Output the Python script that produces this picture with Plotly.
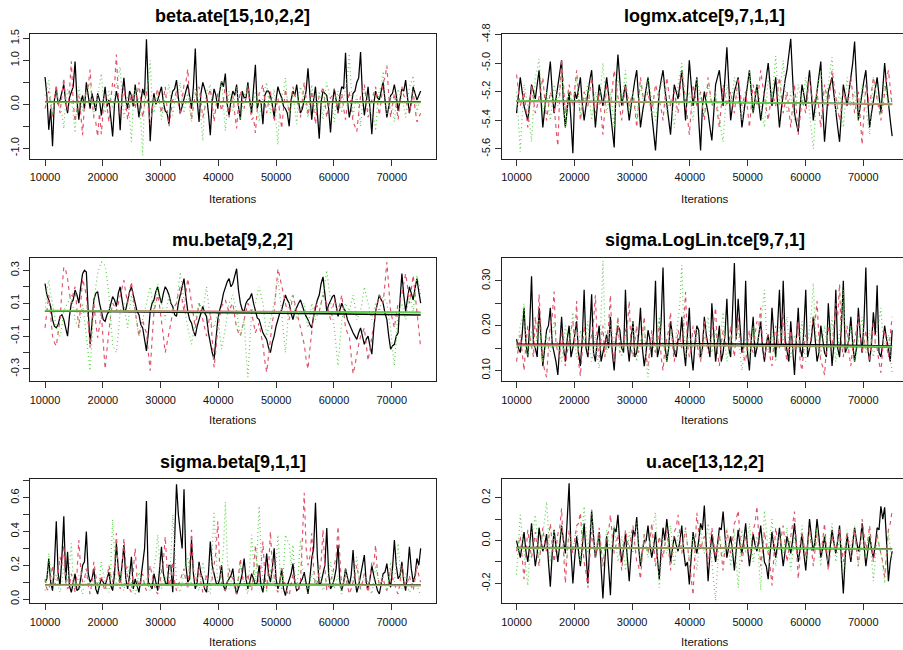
import numpy as np
import plotly.graph_objects as go

# MCMC iteration grid (thinned draws kept after burn-in)
START, END, STEP = 10000, 75000, 650

titles = ["beta.ate[15,10,2,2]", "logmx.atce[9,7,1,1]", "mu.beta[9,2,2]",
          "sigma.LogLin.tce[9,7,1]", "sigma.beta[9,1,1]", "u.ace[13,12,2]"]

x_ticks = [10000, 20000, 30000, 40000, 50000, 60000, 70000]

# Each chain is stored as draws on the main grid (START + k*STEP) and
# the draws half a step later (START + STEP/2 + k*STEP).

# ---- beta.ate[15,10,2,2] ----
beta_ate_c1 = [0.62, -0.58, -0.95, 0.35, 0.1, 0.45, -0.2, 0.3, 0.97, -0.35,
               0.2, 0.5, -0.1, 0.05, 0.25, -0.25, 0.4, 0.1, -0.73, 0.3,
               -0.59, 0.6, -0.1, 0.2, 0.45, -0.3, 0.35, 1.48, -0.84, 0.25,
               0.1, 0.4, -0.15, -0.45, 0.3, 0.55, -0.2, 0.15, 0.45, -0.1,
               1.27, -0.4, 0.5, 0.2, -0.7, 0.35, -0.1, 0.52, 0.7, -0.25,
               0.3, 0.45, -0.35, 0.15, 0.5, -0.2, 0.9, 0.1, -0.45, 0.3,
               0.2, -0.3, 0.4, 0.15, -0.1, -0.5, 0.3, 0.45, -0.2, 0.1,
               0.82, -0.35, 0.4, -0.78, 0.3, 0.2, -0.64, 0.35, -0.2, 0.4,
               1.17, -0.3, 0.25, 0.5, 1.19, -0.25, 0.4, -0.68, 0.3, 0.1,
               0.5, -0.3, 0.2, 0.45, -0.15, 0.35, 0.55, -0.2, 0.4, 0.1, 0.3]
beta_ate_c1_half = [0.2, -0.1, 0.1, 0.0, 0.3, 0.05, 0.15, 0.4, 0.1, 0.05,
                    -0.1, 0.2, 0.25, -0.15, 0.1, 0.15, -0.05, -0.3, 0.0, 0.1,
                    0.2, 0.1, 0.3, -0.05, 0.1, 0.05, 0.2, 0.3, -0.1, 0.0,
                    0.25, 0.05, -0.2, 0.1, 0.35, 0.15, -0.05, 0.3, 0.2, 0.4,
                    0.1, 0.25, 0.35, -0.2, 0.05, 0.2, 0.3, 0.4, 0.0, 0.1,
                    0.2, -0.05, 0.3, 0.15, 0.1, 0.35, -0.1, 0.05, 0.2, 0.3,
                    0.0, 0.1, 0.25, -0.05, -0.2, 0.1, 0.2, 0.05, -0.1, 0.3,
                    0.15, 0.1, -0.2, 0.05, 0.25, -0.1, 0.0, 0.1, 0.2, 0.35,
                    0.1, -0.05, 0.3, 0.6, 0.2, 0.05, -0.1, 0.0, 0.15, 0.3,
                    0.1, -0.05, 0.25, 0.2, 0.1, 0.3, 0.15, 0.05, 0.25, 0.2]
beta_ate_c2 = [-0.1, 0.3, -0.3, 0.45, -0.2, 0.6, -0.15, 0.98, -0.4, 0.2,
               -0.7, 0.35, 0.79, -0.3, -0.73, -0.68, 0.2, -0.4, 0.5, 1.13,
               -0.25, 0.4, -0.35, 0.25, -0.1, 0.5, -0.3, 0.3, -0.45, 0.15,
               0.35, -0.2, 0.4, -0.5, 0.1, 0.3, -0.25, 0.45, 0.8, -0.35,
               0.2, 0.4, -0.3, 0.1, 0.35, -0.4, 0.25, -0.15, 0.45, -0.3,
               0.2, -0.55, 0.3, -0.1, 0.4, -0.35, -0.65, 0.25, 0.45, -0.2,
               0.3, -0.4, 0.15, -0.55, 0.35, -0.2, 0.4, 0.1, -0.3, 0.5,
               -0.25, 0.3, -0.45, 0.2, 0.4, -0.3, 0.15, 0.35, -0.2, 0.25,
               -0.35, 0.3, -0.4, -0.62, 0.2, 0.45, -0.3, 0.1, 0.4, -0.25,
               0.5, 0.88, -0.3, 0.25, -0.35, 0.4, 0.1, -0.2, 0.3, -0.4, -0.2]
beta_ate_c2_half = [0.1, 0.0, 0.15, 0.05, 0.2, 0.1, 0.3, 0.05, -0.1, -0.2,
                    0.0, 0.4, 0.1, -0.4, -0.2, -0.1, -0.05, 0.1, 0.4, 0.2,
                    0.05, 0.0, -0.05, 0.1, 0.2, 0.05, 0.0, -0.1, -0.15, 0.2,
                    0.05, 0.1, -0.1, -0.2, 0.15, 0.0, 0.1, 0.5, 0.1, -0.05,
                    0.3, 0.05, -0.1, 0.2, 0.0, -0.05, 0.05, 0.1, 0.0, -0.05,
                    -0.2, 0.0, 0.1, 0.15, 0.0, -0.3, -0.1, 0.3, 0.1, 0.05,
                    -0.05, -0.1, -0.2, -0.1, 0.05, 0.1, 0.2, -0.05, 0.1, 0.15,
                    0.0, -0.1, -0.05, 0.25, 0.05, -0.05, 0.2, 0.05, 0.0, -0.1,
                    0.0, -0.05, -0.5, -0.2, 0.3, 0.1, -0.05, 0.2, 0.05, 0.1,
                    0.6, 0.2, 0.0, -0.05, 0.1, 0.2, -0.05, 0.05, -0.1, -0.3]
beta_ate_c3 = [0.2, 0.55, -0.2, 0.3, -0.1, -0.55, 0.35, 0.1, -0.65, 0.4,
               -0.15, 0.25, 0.5, -0.3, 0.2, 0.7, -0.2, 0.3, -0.1, 0.45,
               0.85, -0.3, 0.2, -0.85, 0.35, 0.1, -1.16, 0.4, 1.0, -0.2,
               0.3, -0.35, 0.15, 0.45, -0.25, 0.3, 0.5, -0.2, 0.25, -0.4,
               0.35, 0.1, -0.83, 0.3, 0.45, -0.3, 0.2, 0.55, -0.6, 0.3,
               -0.15, 0.4, -0.35, 0.2, 0.45, -0.25, 0.3, -0.4, 0.15, 0.5,
               -0.2, 0.35, -0.92, 0.2, 0.6, -0.3, 0.25, -0.45, 0.4, 0.1,
               -0.3, 0.45, -0.2, 0.3, -0.35, 0.5, 0.1, -0.4, 0.3, -0.2,
               0.4, 1.15, -0.3, 0.2, -0.5, 0.35, 0.1, -0.3, -0.6, 0.3,
               0.75, -0.25, 0.2, -0.4, 0.35, 0.1, -0.3, 0.4, 0.65, -0.2, 0.15]
beta_ate_c3_half = [0.35, 0.1, 0.05, 0.1, -0.2, 0.05, 0.2, -0.2, 0.1, 0.05,
                    0.1, 0.35, 0.1, -0.05, 0.4, 0.2, 0.0, 0.1, 0.15, 0.6,
                    0.2, -0.05, -0.3, 0.1, 0.2, -0.4, 0.2, 0.5, 0.05, 0.1,
                    0.0, -0.05, 0.25, 0.1, 0.05, 0.3, 0.1, 0.05, -0.1, 0.1,
                    0.2, -0.3, 0.0, 0.35, 0.05, -0.05, 0.35, 0.0, -0.1, 0.1,
                    0.15, 0.0, -0.1, 0.3, 0.1, 0.05, -0.1, 0.0, 0.3, 0.1,
                    0.05, -0.4, 0.0, 0.3, 0.1, 0.0, -0.1, 0.2, 0.25, -0.05,
                    0.15, 0.1, 0.05, 0.0, 0.2, 0.3, -0.1, 0.05, 0.0, 0.15,
                    0.6, 0.3, 0.0, -0.1, 0.0, 0.2, -0.05, -0.3, 0.0, 0.4,
                    0.2, 0.0, -0.05, 0.1, 0.2, -0.05, 0.1, 0.5, 0.2, 0.0]
beta_ate_smooth = [[0.06, 0.06, 0.06, 0.06, 0.06],
                   [0.05, 0.05, 0.04, 0.04, 0.04],
                   [0.05, 0.05, 0.05, 0.05, 0.05]]

# ---- logmx.atce[9,7,1,1] ----
logmx_c1 = [-5.35, -5.1, -5.3, -5.4, -5.15, -5.25, -5.05, -5.45, -5.2, -4.99,
            -5.35, -5.15, -4.98, -5.45, -5.2, -5.63, -5.25, -5.1, -5.4, -5.2,
            -5.05, -5.45, -5.15, -5.3, -5.1, -5.35, -5.59, -4.94, -5.3, -5.15,
            -5.4, -5.2, -5.05, -5.45, -5.25, -5.1, -5.35, -5.61, -5.2, -5.05,
            -5.3, -5.5, -5.15, -5.25, -5.05, -5.4, -4.98, -5.3, -5.1, -5.61,
            -5.2, -5.35, -5.54, -5.15, -5.05, -5.3, -4.89, -5.4, -5.2, -5.1,
            -5.45, -5.25, -5.05, -5.35, -5.15, -5.4, -5.2, -5.0, -5.3, -5.1,
            -5.45, -5.2, -5.05, -4.83, -5.35, -5.48, -5.15, -5.3, -5.05, -5.4,
            -5.2, -4.99, -5.55, -5.2, -5.1, -5.35, -5.55, -5.15, -5.3, -5.1,
            -4.85, -5.4, -5.2, -5.05, -5.45, -5.25, -5.1, -5.35, -5.0, -5.3, -5.51]
logmx_c1_half = [-5.22, -5.2, -5.35, -5.28, -5.2, -5.15, -5.25, -5.32, -5.1, -5.2,
                 -5.25, -5.08, -5.3, -5.32, -5.4, -5.2, -5.18, -5.28, -5.3, -5.12,
                 -5.25, -5.3, -5.22, -5.2, -5.22, -5.45, -5.15, -5.12, -5.22, -5.28,
                 -5.3, -5.12, -5.25, -5.35, -5.18, -5.22, -5.45, -5.4, -5.12, -5.18,
                 -5.4, -5.32, -5.2, -5.15, -5.22, -5.2, -5.15, -5.2, -5.4, -5.3,
                 -5.28, -5.45, -5.35, -5.1, -5.18, -5.1, -5.15, -5.3, -5.15, -5.28,
                 -5.35, -5.15, -5.2, -5.25, -5.28, -5.3, -5.1, -5.15, -5.2, -5.28,
                 -5.32, -5.12, -4.95, -5.1, -5.42, -5.3, -5.22, -5.18, -5.22, -5.3,
                 -5.1, -5.3, -5.38, -5.15, -5.22, -5.45, -5.35, -5.22, -5.2, -5.0,
                 -5.12, -5.3, -5.12, -5.25, -5.35, -5.18, -5.22, -5.18, -5.15, -5.4]
logmx_c2 = [-5.08, -5.3, -5.2, -5.45, -5.15, -5.35, -5.25, -5.1, -5.4, -5.2,
            -5.3, -5.58, -4.97, -5.35, -5.15, -5.3, -5.05, -5.4, -5.2, -5.3,
            -5.1, -5.35, -5.2, -5.5, -5.15, -5.3, -5.05, -5.25, -5.4, -5.15,
            -5.3, -5.2, -5.45, -5.1, -5.3, -5.2, -5.35, -5.15, -5.25, -5.4,
            -5.1, -5.3, -5.2, -5.35, -5.05, -5.25, -5.5, -5.15, -5.3, -5.2,
            -5.4, -5.1, -5.3, -5.25, -5.45, -5.15, -5.3, -5.2, -5.35, -5.1,
            -5.3, -5.2, -5.45, -5.15, -5.3, -5.05, -5.25, -5.4, -5.2, -5.3,
            -5.1, -5.35, -5.2, -5.45, -5.15, -5.5, -5.25, -5.35, -5.1, -5.3,
            -5.2, -5.45, -5.15, -5.3, -5.05, -5.25, -5.4, -5.2, -5.3, -5.1,
            -5.35, -5.2, -5.57, -5.15, -5.3, -5.1, -5.25, -5.4, -5.2, -5.05, -5.3]
logmx_c2_half = [-5.2, -5.25, -5.32, -5.3, -5.25, -5.3, -5.18, -5.25, -5.3, -5.25,
                 -5.45, -5.22, -5.15, -5.25, -5.22, -5.18, -5.22, -5.3, -5.25, -5.2,
                 -5.22, -5.28, -5.35, -5.32, -5.22, -5.18, -5.15, -5.32, -5.28, -5.22,
                 -5.25, -5.32, -5.28, -5.2, -5.25, -5.28, -5.25, -5.2, -5.32, -5.25,
                 -5.2, -5.25, -5.28, -5.2, -5.15, -5.38, -5.32, -5.22, -5.25, -5.3,
                 -5.25, -5.2, -5.28, -5.35, -5.3, -5.22, -5.25, -5.28, -5.22, -5.2,
                 -5.25, -5.32, -5.3, -5.22, -5.18, -5.15, -5.32, -5.3, -5.25, -5.2,
                 -5.22, -5.28, -5.32, -5.3, -5.32, -5.38, -5.3, -5.22, -5.2, -5.25,
                 -5.32, -5.3, -5.22, -5.18, -5.15, -5.32, -5.3, -5.25, -5.2, -5.22,
                 -5.28, -5.38, -5.35, -5.22, -5.2, -5.18, -5.32, -5.3, -5.12, -5.18]
logmx_c3 = [-5.2, -5.62, -5.15, -5.3, -5.55, -5.1, -4.97, -5.35, -5.2, -5.4,
            -5.15, -5.3, -5.05, -5.45, -5.2, -5.3, -5.1, -5.35, -5.25, -5.15,
            -5.4, -5.2, -5.3, -5.0, -5.35, -5.2, -5.45, -5.1, -5.3, -5.05,
            -5.35, -5.2, -5.4, -5.15, -5.3, -5.1, -5.25, -5.4, -5.2, -5.1,
            -5.35, -5.25, -5.45, -5.15, -5.0, -5.3, -5.2, -5.4, -5.1, -5.25,
            -5.35, -5.15, -5.3, -5.2, -5.4, -5.55, -5.15, -5.3, -5.1, -5.25,
            -5.4, -5.2, -5.05, -5.35, -5.15, -5.3, -5.45, -5.1, -5.25, -4.95,
            -5.3, -4.98, -5.35, -5.2, -5.4, -5.15, -5.3, -5.1, -5.35, -5.6,
            -5.2, -5.05, -5.3, -5.15, -4.96, -5.35, -5.2, -5.45, -5.1, -5.3,
            -5.2, -5.4, -5.15, -5.3, -5.5, -5.1, -5.25, -5.35, -5.15, -5.3, -5.2]
logmx_c3_half = [-5.4, -5.38, -5.22, -5.42, -5.32, -5.05, -5.15, -5.28, -5.3, -5.28,
                 -5.22, -5.18, -5.25, -5.32, -5.25, -5.2, -5.22, -5.3, -5.2, -5.28,
                 -5.3, -5.25, -5.15, -5.18, -5.28, -5.32, -5.28, -5.2, -5.18, -5.2,
                 -5.28, -5.3, -5.28, -5.22, -5.2, -5.18, -5.32, -5.3, -5.15, -5.22,
                 -5.3, -5.35, -5.3, -5.08, -5.15, -5.25, -5.3, -5.25, -5.18, -5.3,
                 -5.25, -5.22, -5.25, -5.3, -5.48, -5.35, -5.22, -5.2, -5.18, -5.32,
                 -5.3, -5.12, -5.2, -5.25, -5.22, -5.38, -5.28, -5.18, -5.1, -5.15,
                 -5.12, -5.18, -5.28, -5.3, -5.28, -5.22, -5.2, -5.22, -5.48, -5.4,
                 -5.12, -5.18, -5.22, -5.05, -5.15, -5.28, -5.32, -5.28, -5.2, -5.25,
                 -5.3, -5.28, -5.22, -5.4, -5.3, -5.18, -5.3, -5.25, -5.22, -5.25]
logmx_smooth = [[-5.265, -5.268, -5.272, -5.278, -5.285],
                [-5.268, -5.27, -5.274, -5.28, -5.29],
                [-5.263, -5.267, -5.272, -5.278, -5.284]]

# ---- mu.beta[9,2,2] ----
mu_beta_c1 = [0.22, 0.12, 0.0, -0.05, 0.02, 0.0, -0.1, 0.1, 0.18, 0.1,
              0.28, 0.29, -0.15, 0.12, 0.17, 0.05, -0.01, 0.05, 0.14, 0.08,
              0.2, 0.05, 0.12, 0.2, 0.1, 0.03, -0.05, -0.19, 0.05, 0.12,
              0.2, 0.1, 0.2, 0.15, 0.08, 0.02, 0.15, 0.25, 0.05, -0.02,
              -0.1, 0.0, 0.08, 0.02, -0.15, -0.24, 0.0, 0.1, 0.2, 0.25,
              0.22, 0.31, 0.1, 0.05, 0.12, 0.16, 0.05, 0.0, -0.08, -0.12,
              -0.2, -0.1, 0.0, 0.06, 0.15, 0.1, 0.0, 0.08, 0.12, 0.05,
              0.0, -0.05, 0.08, 0.15, 0.26, 0.05, 0.12, 0.15, 0.02, 0.1,
              0.05, -0.03, -0.08, -0.12, -0.05, -0.15, -0.1, -0.21, 0.05, 0.15,
              0.1, 0.0, -0.18, -0.15, -0.08, 0.28, 0.05, 0.2, 0.12, 0.25, 0.1]
mu_beta_c1_half = [0.15, 0.08, -0.04, -0.03, 0.03, -0.06, 0.02, 0.12, 0.15, 0.2,
                   0.3, 0.05, -0.02, 0.16, 0.1, 0.0, 0.03, 0.1, 0.12, 0.16,
                   0.12, 0.06, 0.17, 0.14, 0.05, -0.03, -0.12, -0.08, 0.1, 0.17,
                   0.14, 0.16, 0.18, 0.1, 0.03, 0.1, 0.2, 0.14, 0.0, -0.07,
                   -0.04, 0.05, 0.04, -0.08, -0.2, -0.1, 0.06, 0.16, 0.23, 0.2,
                   0.27, 0.18, 0.06, 0.1, 0.13, 0.1, 0.01, -0.05, -0.1, -0.17,
                   -0.14, -0.04, 0.04, 0.1, 0.12, 0.04, 0.05, 0.1, 0.08, 0.02,
                   -0.03, 0.02, 0.12, 0.22, 0.14, 0.09, 0.14, 0.08, 0.06, 0.07,
                   0.0, -0.06, -0.1, -0.08, -0.1, -0.12, -0.16, -0.06, 0.1, 0.12,
                   0.04, -0.1, -0.16, -0.1, 0.12, 0.15, 0.13, 0.16, 0.19, 0.17]
mu_beta_c2 = [-0.05, 0.15, -0.1, -0.16, 0.0, 0.32, 0.25, 0.1, 0.2, -0.05,
              0.25, 0.15, -0.17, 0.1, -0.11, 0.05, -0.3, -0.05, 0.1, 0.05,
              0.15, 0.24, 0.1, 0.23, 0.05, -0.1, 0.0, -0.08, -0.31, 0.05,
              0.15, 0.0, -0.2, -0.08, 0.05, 0.1, 0.2, 0.05, 0.25, 0.1,
              -0.05, 0.1, 0.0, -0.1, 0.05, -0.29, -0.05, 0.08, 0.12, 0.05,
              0.1, -0.05, -0.1, 0.0, 0.1, 0.05, -0.08, -0.02, -0.15, -0.32, -0.1,
              0.05, 0.31, 0.2, 0.1, 0.0, 0.15, 0.05, -0.05, -0.15, -0.3,
              -0.05, 0.1, 0.05, 0.15, 0.1, 0.0, 0.12, 0.05, 0.15, -0.05,
              -0.1, -0.33, -0.2, -0.1, -0.05, -0.25, -0.1, 0.05, 0.15, 0.1,
              0.35, 0.05, -0.05, 0.1, 0.15, 0.28, 0.1, 0.27, 0.05, -0.17]
mu_beta_c2_half = [0.06, 0.02, -0.14, -0.08, 0.18, 0.3, 0.16, 0.16, 0.06, 0.1,
                   0.2, -0.02, -0.05, -0.02, -0.04, -0.14, -0.18, 0.03, 0.08, 0.1,
                   0.2, 0.16, 0.17, 0.13, -0.03, -0.04, -0.05, -0.2, -0.12, 0.1,
                   0.08, -0.1, -0.15, -0.02, 0.08, 0.16, 0.12, 0.16, 0.18, 0.02,
                   0.03, 0.05, -0.06, -0.03, -0.12, -0.18, 0.02, 0.1, 0.08, 0.08,
                   0.02, -0.08, -0.05, 0.06, 0.08, -0.02, -0.05, -0.09, -0.25, -0.22,
                   -0.02, 0.18, 0.26, 0.14, 0.05, 0.08, 0.1, 0.0, -0.1, -0.24,
                   -0.18, 0.03, 0.08, 0.1, 0.12, 0.05, 0.06, 0.08, 0.1, 0.05,
                   -0.08, -0.22, -0.28, -0.15, -0.08, -0.15, -0.18, -0.02, 0.1, 0.12,
                   0.22, 0.2, 0.0, 0.03, 0.12, 0.22, 0.2, 0.18, 0.16, -0.06]
mu_beta_c3 = [0.05, 0.24, 0.1, -0.05, -0.1, 0.05, 0.1, 0.15, 0.0, -0.05,
              0.1, -0.1, -0.31, 0.1, 0.28, 0.35, 0.33, 0.15, -0.15, -0.2,
              0.05, 0.1, -0.05, 0.15, 0.05, -0.1, 0.0, 0.1, 0.2, 0.05,
              0.22, 0.1, 0.0, 0.15, 0.05, 0.1, 0.29, 0.1, -0.05, -0.15,
              0.0, 0.1, 0.05, 0.2, 0.0, -0.05, 0.05, -0.18, -0.05, 0.1,
              0.15, 0.05, -0.1, 0.0, -0.35, 0.05, 0.1, 0.2, 0.1, -0.1,
              0.0, 0.1, 0.25, 0.05, -0.2, 0.1, 0.15, 0.0, 0.05, 0.1,
              -0.05, 0.1, 0.0, 0.05, 0.15, 0.3, 0.1, -0.05, -0.28, 0.0,
              0.1, 0.05, 0.15, 0.0, 0.05, 0.2, 0.1, 0.0, 0.1, 0.05,
              0.15, 0.1, -0.05, -0.28, 0.05, 0.1, 0.0, 0.15, 0.05, 0.27, 0.15]
mu_beta_c3_half = [0.18, 0.15, 0.02, -0.08, -0.04, 0.08, 0.12, 0.08, -0.03, 0.02,
                   0.0, -0.22, -0.12, 0.2, 0.32, 0.34, 0.25, 0.0, -0.18, -0.08,
                   0.08, 0.02, 0.06, 0.1, -0.03, -0.05, 0.05, 0.16, 0.12, 0.14,
                   0.16, 0.05, 0.08, 0.1, 0.08, 0.2, 0.2, 0.02, -0.1, -0.08,
                   0.05, 0.08, 0.12, 0.1, -0.03, 0.0, -0.08, -0.12, 0.02, 0.12,
                   0.1, -0.03, -0.05, -0.2, -0.15, 0.08, 0.15, 0.15, 0.0, -0.05,
                   0.05, 0.18, 0.15, -0.08, -0.05, 0.13, 0.08, 0.03, 0.08, 0.02,
                   0.03, 0.05, 0.03, 0.1, 0.22, 0.2, 0.02, -0.18, -0.14, 0.05,
                   0.08, 0.1, 0.08, 0.03, 0.12, 0.15, 0.05, 0.05, 0.08, 0.1,
                   0.12, 0.02, -0.18, -0.12, 0.08, 0.05, 0.08, 0.1, 0.16, 0.22]
mu_beta_smooth = [[0.052, 0.048, 0.043, 0.036, 0.028],
                  [0.056, 0.054, 0.051, 0.048, 0.046],
                  [0.054, 0.05, 0.046, 0.043, 0.042]]

# ---- sigma.LogLin.tce[9,7,1] ----
sigma_ll_c1 = [0.17, 0.14, 0.24, 0.13, 0.31, 0.15, 0.24, 0.11, 0.19, 0.24,
               0.14, 0.09, 0.22, 0.12, 0.2, 0.15, 0.21, 0.11, 0.28, 0.13,
               0.27, 0.12, 0.2, 0.14, 0.18, 0.22, 0.1, 0.2, 0.15, 0.28,
               0.12, 0.21, 0.14, 0.24, 0.11, 0.19, 0.13, 0.3, 0.15, 0.33,
               0.12, 0.21, 0.14, 0.17, 0.22, 0.11, 0.24, 0.1, 0.2, 0.13,
               0.22, 0.15, 0.25, 0.12, 0.2, 0.14, 0.26, 0.13, 0.34, 0.26,
               0.14, 0.3, 0.1, 0.22, 0.15, 0.21, 0.12, 0.18, 0.24, 0.13,
               0.28, 0.3, 0.14, 0.21, 0.09, 0.24, 0.13, 0.28, 0.15, 0.22,
               0.12, 0.2, 0.14, 0.25, 0.11, 0.28, 0.13, 0.3, 0.15, 0.22,
               0.12, 0.24, 0.14, 0.33, 0.12, 0.23, 0.29, 0.13, 0.2, 0.15, 0.19]
sigma_ll_c1_half = [0.15, 0.18, 0.16, 0.2, 0.16, 0.13, 0.17, 0.15, 0.2, 0.16,
                    0.12, 0.16, 0.15, 0.17, 0.13, 0.18, 0.14, 0.17, 0.15, 0.19,
                    0.14, 0.17, 0.12, 0.16, 0.15, 0.14, 0.17, 0.19, 0.14, 0.16,
                    0.17, 0.13, 0.18, 0.15, 0.14, 0.17, 0.19, 0.13, 0.21, 0.16,
                    0.15, 0.18, 0.13, 0.17, 0.15, 0.18, 0.14, 0.16, 0.19, 0.15,
                    0.18, 0.13, 0.17, 0.16, 0.12, 0.18, 0.15, 0.23, 0.17, 0.2,
                    0.16, 0.14, 0.17, 0.13, 0.18, 0.15, 0.16, 0.14, 0.18, 0.2,
                    0.16, 0.17, 0.12, 0.15, 0.17, 0.15, 0.19, 0.13, 0.17, 0.16,
                    0.14, 0.17, 0.13, 0.18, 0.16, 0.15, 0.2, 0.14, 0.17, 0.16,
                    0.15, 0.18, 0.21, 0.15, 0.16, 0.18, 0.14, 0.16, 0.17, 0.12]
sigma_ll_c2 = [0.12, 0.18, 0.1, 0.2, 0.15, 0.22, 0.27, 0.12, 0.085, 0.2,
               0.276, 0.14, 0.19, 0.11, 0.17, 0.21, 0.255, 0.088, 0.2, 0.14,
               0.18, 0.268, 0.13, 0.2, 0.16, 0.268, 0.12, 0.22, 0.15, 0.19,
               0.255, 0.13, 0.2, 0.16, 0.22, 0.11, 0.19, 0.14, 0.21, 0.1,
               0.17, 0.23, 0.12, 0.19, 0.15, 0.275, 0.13, 0.2, 0.16, 0.12,
               0.21, 0.14, 0.18, 0.24, 0.11, 0.19, 0.15, 0.2, 0.13, 0.22,
               0.16, 0.12, 0.19, 0.14, 0.21, 0.24, 0.13, 0.18, 0.11, 0.2,
               0.15, 0.23, 0.12, 0.19, 0.14, 0.21, 0.1, 0.18, 0.15, 0.22,
               0.255, 0.12, 0.09, 0.2, 0.15, 0.25, 0.293, 0.13, 0.2, 0.11,
               0.17, 0.22, 0.14, 0.19, 0.12, 0.21, 0.15, 0.095, 0.19, 0.13, 0.22]
sigma_ll_c2_half = [0.15, 0.14, 0.16, 0.18, 0.13, 0.17, 0.19, 0.1, 0.15, 0.22,
                    0.16, 0.13, 0.15, 0.14, 0.19, 0.16, 0.12, 0.15, 0.17, 0.16,
                    0.21, 0.16, 0.17, 0.13, 0.2, 0.15, 0.17, 0.14, 0.16, 0.2,
                    0.15, 0.17, 0.14, 0.18, 0.13, 0.16, 0.17, 0.15, 0.13, 0.15,
                    0.19, 0.16, 0.15, 0.17, 0.2, 0.16, 0.15, 0.18, 0.14, 0.16,
                    0.17, 0.15, 0.2, 0.14, 0.16, 0.17, 0.15, 0.16, 0.18, 0.17,
                    0.13, 0.16, 0.15, 0.18, 0.2, 0.16, 0.15, 0.13, 0.16, 0.17,
                    0.18, 0.15, 0.16, 0.15, 0.17, 0.12, 0.15, 0.16, 0.18, 0.21,
                    0.17, 0.11, 0.15, 0.17, 0.2, 0.22, 0.16, 0.17, 0.14, 0.15,
                    0.19, 0.17, 0.16, 0.15, 0.17, 0.16, 0.12, 0.15, 0.16, 0.18]
sigma_ll_c3 = [0.15, 0.2, 0.25, 0.13, 0.19, 0.15, 0.22, 0.12, 0.18, 0.14,
               0.21, 0.16, 0.12, 0.2, 0.15, 0.23, 0.13, 0.19, 0.16, 0.21,
               0.12, 0.18, 0.105, 0.345, 0.14, 0.2, 0.16, 0.22, 0.13, 0.18,
               0.15, 0.21, 0.12, 0.17, 0.2, 0.085, 0.18, 0.14, 0.22, 0.16,
               0.12, 0.19, 0.15, 0.21, 0.335, 0.13, 0.18, 0.15, 0.2, 0.12,
               0.17, 0.22, 0.14, 0.19, 0.16, 0.23, 0.12, 0.18, 0.15, 0.21,
               0.1, 0.17, 0.13, 0.2, 0.15, 0.22, 0.28, 0.14, 0.19, 0.12,
               0.2, 0.16, 0.22, 0.13, 0.18, 0.15, 0.21, 0.12, 0.19, 0.295,
               0.16, 0.13, 0.2, 0.15, 0.22, 0.12, 0.18, 0.28, 0.14, 0.2,
               0.12, 0.17, 0.22, 0.14, 0.19, 0.13, 0.2, 0.24, 0.15, 0.18, 0.095]
sigma_ll_c3_half = [0.17, 0.22, 0.16, 0.16, 0.17, 0.18, 0.15, 0.16, 0.15, 0.18,
                    0.17, 0.14, 0.16, 0.17, 0.19, 0.16, 0.15, 0.17, 0.18, 0.15,
                    0.14, 0.13, 0.22, 0.2, 0.17, 0.18, 0.19, 0.15, 0.16, 0.16,
                    0.18, 0.15, 0.15, 0.17, 0.12, 0.14, 0.15, 0.18, 0.18, 0.14,
                    0.15, 0.17, 0.18, 0.25, 0.2, 0.15, 0.16, 0.17, 0.15, 0.14,
                    0.19, 0.17, 0.16, 0.17, 0.19, 0.16, 0.15, 0.16, 0.18, 0.14,
                    0.13, 0.15, 0.16, 0.17, 0.18, 0.24, 0.19, 0.16, 0.15, 0.16,
                    0.18, 0.19, 0.16, 0.15, 0.17, 0.18, 0.15, 0.16, 0.23, 0.2,
                    0.14, 0.16, 0.17, 0.18, 0.16, 0.15, 0.22, 0.19, 0.17, 0.15,
                    0.14, 0.19, 0.17, 0.16, 0.15, 0.16, 0.21, 0.18, 0.16, 0.13]
sigma_ll_smooth = [[0.159, 0.16, 0.16, 0.158, 0.155],
                   [0.157, 0.157, 0.156, 0.154, 0.152],
                   [0.155, 0.156, 0.156, 0.155, 0.154]]

# ---- sigma.beta[9,1,1] ----
sigma_beta_c1 = [0.1, 0.24, 0.05, 0.46, 0.08, 0.49, 0.28, 0.04, 0.15, 0.06,
                 0.2, 0.4, 0.1, 0.18, 0.03, 0.12, 0.08, 0.16, 0.05, 0.33,
                 0.1, 0.32, 0.06, 0.25, 0.12, 0.04, 0.2, 0.58, 0.08, 0.15,
                 0.05, 0.31, 0.1, 0.2, 0.04, 0.68, 0.41, 0.65, 0.1, 0.35,
                 0.06, 0.22, 0.12, 0.04, 0.34, 0.15, 0.08, 0.2, 0.05, 0.12,
                 0.18, 0.03, 0.1, 0.24, 0.06, 0.15, 0.08, 0.2, 0.04, 0.27,
                 0.1, 0.3, 0.06, 0.18, 0.02, 0.12, 0.21, 0.05, 0.1, 0.16,
                 0.03, 0.24, 0.57, 0.08, 0.15, 0.42, 0.06, 0.12, 0.32, 0.05,
                 0.18, 0.08, 0.29, 0.04, 0.14, 0.26, 0.06, 0.2, 0.1, 0.03,
                 0.15, 0.21, 0.07, 0.35, 0.12, 0.22, 0.05, 0.31, 0.1, 0.24, 0.3]
sigma_beta_c1_half = [0.12, 0.1, 0.2, 0.15, 0.25, 0.1, 0.08, 0.1, 0.05, 0.12,
                      0.22, 0.15, 0.12, 0.06, 0.08, 0.1, 0.12, 0.08, 0.15, 0.18,
                      0.2, 0.12, 0.14, 0.06, 0.08, 0.12, 0.3, 0.1, 0.06, 0.1,
                      0.18, 0.15, 0.08, 0.2, 0.35, 0.5, 0.3, 0.2, 0.12, 0.15,
                      0.1, 0.15, 0.06, 0.15, 0.2, 0.1, 0.12, 0.08, 0.1, 0.14,
                      0.08, 0.06, 0.15, 0.12, 0.1, 0.12, 0.1, 0.08, 0.14, 0.15,
                      0.18, 0.12, 0.1, 0.06, 0.08, 0.15, 0.1, 0.06, 0.12, 0.08,
                      0.12, 0.3, 0.25, 0.1, 0.2, 0.15, 0.08, 0.18, 0.1, 0.1,
                      0.12, 0.14, 0.12, 0.08, 0.18, 0.1, 0.12, 0.14, 0.05, 0.08,
                      0.16, 0.12, 0.18, 0.2, 0.14, 0.1, 0.16, 0.18, 0.14, 0.2]
sigma_beta_c2 = [0.12, 0.05, 0.2, 0.08, 0.25, 0.32, 0.06, 0.15, 0.04, 0.35,
                 0.1, 0.18, 0.03, 0.22, 0.08, 0.14, 0.05, 0.2, 0.1, 0.39,
                 0.06, 0.36, 0.12, 0.04, 0.3, 0.08, 0.15, 0.05, 0.2, 0.1,
                 0.03, 0.16, 0.37, 0.08, 0.22, 0.05, 0.12, 0.18, 0.06, 0.41,
                 0.1, 0.2, 0.04, 0.15, 0.08, 0.22, 0.46, 0.1, 0.05, 0.18,
                 0.12, 0.03, 0.24, 0.08, 0.15, 0.05, 0.32, 0.1, 0.34, 0.06,
                 0.4, 0.12, 0.04, 0.18, 0.08, 0.02, 0.15, 0.06, 0.1, 0.63,
                 0.2, 0.39, 0.08, 0.15, 0.41, 0.05, 0.12, 0.2, 0.43, 0.06,
                 0.14, 0.03, 0.1, 0.2, 0.06, 0.15, 0.04, 0.22, 0.32, 0.08,
                 0.12, 0.05, 0.18, 0.1, 0.03, 0.2, 0.08, 0.14, 0.05, 0.2, 0.1]
sigma_beta_c2_half = [0.06, 0.12, 0.1, 0.15, 0.2, 0.1, 0.08, 0.1, 0.15, 0.18,
                      0.12, 0.08, 0.1, 0.14, 0.1, 0.08, 0.12, 0.14, 0.2, 0.15,
                      0.18, 0.2, 0.06, 0.15, 0.12, 0.1, 0.08, 0.12, 0.14, 0.05,
                      0.08, 0.22, 0.18, 0.12, 0.1, 0.08, 0.14, 0.1, 0.2, 0.18,
                      0.12, 0.1, 0.08, 0.1, 0.12, 0.28, 0.2, 0.06, 0.1, 0.14,
                      0.06, 0.12, 0.14, 0.1, 0.08, 0.15, 0.18, 0.2, 0.15, 0.18,
                      0.2, 0.06, 0.1, 0.12, 0.04, 0.08, 0.1, 0.05, 0.35, 0.3,
                      0.25, 0.18, 0.1, 0.22, 0.18, 0.08, 0.14, 0.25, 0.2, 0.1,
                      0.08, 0.06, 0.14, 0.12, 0.1, 0.08, 0.12, 0.2, 0.15, 0.1,
                      0.08, 0.1, 0.12, 0.05, 0.1, 0.12, 0.1, 0.08, 0.12, 0.14]
sigma_beta_c3 = [0.05, 0.27, 0.08, 0.15, 0.04, 0.2, 0.1, 0.33, 0.06, 0.14,
                 0.03, 0.18, 0.08, 0.12, 0.05, 0.22, 0.1, 0.04, 0.47, 0.08,
                 0.15, 0.05, 0.2, 0.1, 0.03, 0.16, 0.08, 0.12, 0.05, 0.2,
                 0.38, 0.06, 0.14, 0.08, 0.5, 0.1, 0.04, 0.18, 0.25, 0.08,
                 0.15, 0.05, 0.22, 0.1, 0.03, 0.52, 0.08, 0.16, 0.575, 0.06,
                 0.14, 0.05, 0.2, 0.1, 0.03, 0.38, 0.08, 0.55, 0.1, 0.05,
                 0.18, 0.08, 0.38, 0.04, 0.38, 0.33, 0.32, 0.06, 0.35, 0.1,
                 0.04, 0.15, 0.08, 0.2, 0.05, 0.12, 0.22, 0.06, 0.14, 0.03,
                 0.18, 0.08, 0.12, 0.25, 0.05, 0.15, 0.1, 0.03, 0.2, 0.08,
                 0.14, 0.05, 0.22, 0.1, 0.33, 0.06, 0.15, 0.04, 0.12, 0.08, 0.02]
sigma_beta_c3_half = [0.12, 0.15, 0.1, 0.08, 0.1, 0.15, 0.18, 0.12, 0.1, 0.06,
                      0.1, 0.12, 0.08, 0.1, 0.12, 0.15, 0.06, 0.2, 0.25, 0.1,
                      0.08, 0.12, 0.14, 0.05, 0.08, 0.12, 0.1, 0.08, 0.12, 0.25,
                      0.2, 0.1, 0.1, 0.25, 0.3, 0.06, 0.1, 0.2, 0.15, 0.1,
                      0.08, 0.12, 0.15, 0.05, 0.25, 0.3, 0.1, 0.3, 0.25, 0.1,
                      0.08, 0.12, 0.15, 0.06, 0.2, 0.22, 0.3, 0.28, 0.06, 0.1,
                      0.12, 0.2, 0.2, 0.18, 0.35, 0.2, 0.15, 0.18, 0.2, 0.06,
                      0.1, 0.12, 0.14, 0.1, 0.08, 0.15, 0.12, 0.1, 0.08, 0.1,
                      0.12, 0.1, 0.18, 0.14, 0.1, 0.12, 0.06, 0.1, 0.14, 0.1,
                      0.08, 0.12, 0.15, 0.2, 0.18, 0.1, 0.08, 0.06, 0.1, 0.05]
sigma_beta_smooth = [[0.085, 0.087, 0.088, 0.086, 0.083],
                     [0.084, 0.085, 0.085, 0.083, 0.08],
                     [0.082, 0.084, 0.085, 0.083, 0.08]]

# ---- u.ace[13,12,2] ----
u_ace_c1 = [0.0, -0.08, 0.04, -0.1, 0.08, -0.12, 0.06, -0.05, 0.03, -0.215,
            0.05, -0.1, 0.07, -0.06, 0.267, -0.2, 0.02, -0.12, 0.08, -0.2,
            0.14, -0.08, 0.04, -0.27, 0.02, -0.255, 0.06, 0.12, -0.1, 0.03,
            -0.19, 0.05, 0.11, -0.12, 0.0, 0.07, -0.08, 0.04, -0.18, 0.06,
            0.1, -0.1, 0.02, -0.05, 0.07, -0.12, -0.205, 0.04, -0.06, 0.08,
            0.164, -0.19, 0.03, -0.1, 0.06, 0.135, -0.08, 0.02, -0.14, 0.05,
            -0.06, 0.08, -0.12, 0.03, -0.05, 0.07, -0.1, -0.18, 0.04, -0.08,
            0.06, -0.12, 0.02, -0.06, 0.08, -0.1, 0.03, -0.14, 0.1, -0.05,
            0.1, -0.08, 0.02, -0.12, 0.05, -0.06, 0.07, -0.247, 0.03, -0.1,
            0.06, -0.05, 0.08, -0.12, 0.02, -0.08, 0.06, 0.16, 0.155, -0.19, -0.05]
u_ace_c1_half = [-0.04, -0.02, -0.05, -0.02, -0.03, -0.06, 0.0, -0.02, -0.1, -0.06,
                 -0.03, -0.02, 0.0, 0.1, -0.05, -0.08, -0.05, -0.03, -0.06, -0.02,
                 0.02, -0.03, -0.12, -0.1, -0.12, -0.05, 0.04, -0.02, -0.04, -0.08,
                 -0.06, 0.02, -0.03, -0.05, 0.0, -0.02, -0.03, -0.08, -0.05, 0.0,
                 0.02, -0.04, -0.02, 0.0, -0.05, -0.1, -0.08, -0.02, 0.0, 0.05,
                 -0.02, -0.06, -0.04, -0.02, 0.05, 0.02, -0.03, -0.05, -0.04, -0.02,
                 0.0, -0.03, -0.05, -0.02, 0.0, -0.02, -0.12, -0.06, -0.03, -0.02,
                 -0.04, -0.05, -0.02, 0.0, -0.02, -0.04, -0.06, -0.02, 0.02, 0.0,
                 0.02, -0.04, -0.06, -0.03, -0.01, 0.0, -0.1, -0.08, -0.04, -0.02,
                 0.0, -0.01, -0.02, -0.05, -0.04, -0.02, 0.05, 0.1, 0.0, -0.1]
u_ace_c2 = [-0.05, 0.02, -0.18, 0.05, -0.08, 0.04, -0.12, 0.06, -0.05, 0.08,
            -0.1, 0.03, 0.15, -0.2, 0.05, -0.06, 0.07, 0.13, -0.1, -0.22,
            0.04, -0.08, 0.06, -0.12, 0.02, 0.12, -0.06, 0.03, -0.14, 0.05,
            -0.04, 0.07, -0.1, -0.18, 0.03, -0.06, 0.08, -0.12, 0.02, -0.08,
            0.05, -0.14, 0.04, 0.12, -0.06, 0.06, -0.1, -0.255, 0.13, -0.04,
            0.02, -0.12, 0.06, -0.08, 0.03, -0.14, 0.05, -0.06, 0.08, 0.14,
            -0.1, 0.02, -0.08, 0.05, 0.16, -0.12, 0.04, -0.06, -0.21, 0.06,
            -0.04, 0.07, -0.1, 0.02, 0.135, -0.18, 0.04, -0.08, 0.06, -0.12,
            0.03, -0.06, 0.08, -0.14, 0.02, -0.05, 0.06, -0.1, 0.04, -0.08,
            0.05, -0.12, 0.1, -0.04, 0.07, -0.1, 0.03, -0.06, -0.17, 0.05, 0.14]
u_ace_c2_half = [-0.02, -0.08, -0.06, -0.02, -0.03, -0.04, -0.02, -0.01, 0.0, -0.02,
                 -0.04, 0.06, -0.05, -0.06, -0.01, 0.0, 0.08, 0.0, -0.15, -0.08,
                 -0.02, -0.01, -0.03, -0.04, 0.04, 0.02, -0.02, -0.06, -0.04, 0.0,
                 0.02, -0.02, -0.12, -0.06, -0.02, 0.0, -0.02, -0.04, -0.03, -0.02,
                 -0.04, -0.05, 0.06, 0.02, 0.0, -0.02, -0.16, -0.05, 0.04, -0.01,
                 -0.04, -0.03, -0.01, -0.02, -0.06, -0.04, -0.01, 0.0, 0.1, 0.02,
                 -0.04, -0.03, -0.02, 0.08, 0.02, -0.04, -0.02, -0.12, -0.08, 0.0,
                 0.02, -0.02, -0.04, 0.06, -0.02, -0.06, -0.02, -0.01, -0.03, -0.04,
                 -0.01, 0.0, -0.03, -0.06, -0.02, 0.0, -0.02, -0.03, -0.02, -0.01,
                 -0.04, -0.01, 0.03, 0.0, -0.02, -0.04, -0.02, -0.1, -0.06, 0.08]
u_ace_c3 = [-0.16, 0.12, -0.05, -0.21, 0.04, 0.12, -0.08, 0.03, 0.18, -0.1,
            0.05, -0.06, 0.08, -0.12, 0.02, -0.04, 0.06, -0.1, 0.16, -0.06,
            0.15, -0.08, 0.03, -0.12, 0.05, -0.05, 0.07, -0.1, 0.02, -0.14,
            0.04, -0.06, 0.08, -0.1, 0.03, -0.08, 0.05, 0.13, -0.22, 0.02,
            -0.06, 0.07, -0.12, 0.04, -0.05, 0.06, -0.1, 0.02, -0.14, 0.05,
            -0.06, 0.08, -0.1, -0.28, 0.03, -0.08, 0.06, -0.12, 0.04, -0.22,
            0.05, -0.06, 0.08, -0.1, 0.02, -0.23, 0.14, -0.05, 0.1, -0.12,
            0.03, -0.06, 0.06, -0.14, 0.02, -0.08, 0.07, -0.1, 0.04, -0.05,
            0.06, -0.12, 0.03, -0.06, 0.08, -0.1, 0.02, -0.16, 0.05, -0.04,
            0.07, -0.12, 0.03, -0.08, 0.05, -0.19, 0.02, -0.06, -0.2, 0.04, -0.1]
u_ace_c3_half = [-0.02, 0.03, -0.12, -0.08, 0.06, 0.02, -0.03, 0.1, 0.04, -0.03,
                 -0.01, 0.01, -0.02, -0.05, -0.01, 0.01, -0.02, 0.03, 0.05, 0.04,
                 0.03, -0.03, -0.05, -0.04, 0.0, 0.01, -0.02, -0.04, -0.06, -0.05,
                 -0.01, 0.01, -0.01, -0.04, -0.03, -0.02, 0.08, -0.05, -0.1, -0.02,
                 0.0, -0.03, -0.04, -0.01, 0.0, -0.02, -0.04, -0.06, -0.05, -0.01,
                 0.01, -0.01, -0.18, -0.12, -0.03, -0.01, -0.03, -0.04, -0.1, -0.08,
                 0.0, 0.01, -0.01, -0.04, -0.1, -0.05, 0.05, 0.02, -0.01, -0.05,
                 -0.02, 0.0, -0.04, -0.06, -0.03, 0.0, -0.02, -0.03, -0.01, 0.0,
                 -0.03, -0.05, -0.02, 0.01, -0.01, -0.04, -0.08, -0.06, 0.0, 0.02,
                 -0.03, -0.05, -0.02, -0.02, -0.08, -0.09, -0.02, -0.12, -0.08, -0.03]
u_ace_smooth = [[-0.032, -0.033, -0.034, -0.036, -0.038],
                [-0.036, -0.035, -0.035, -0.037, -0.04],
                [-0.035, -0.034, -0.034, -0.036, -0.04]]

# y-axis scales, ticks and labels per panel
y_ranges = [[-1.243, 1.598], [-5.67, -4.797], [-0.375, 0.375],
            [0.076, 0.351], [-0.025, 0.709], [-0.293, 0.286]]
y_ticks = [[-1.0, -0.5, 0.0, 0.5, 1.0, 1.5],
           [-5.6, -5.4, -5.2, -5.0, -4.8],
           [-0.3, -0.2, -0.1, 0.0, 0.1, 0.2, 0.3],
           [0.10, 0.15, 0.20, 0.25, 0.30],
           [0.0, 0.1, 0.2, 0.3, 0.4, 0.5, 0.6, 0.7],
           [-0.2, -0.1, 0.0, 0.1, 0.2]]
y_labels = [["-1.0", "", "0.0", "", "1.0", "1.5"],
            ["-5.6", "-5.4", "-5.2", "-5.0", "-4.8"],
            ["-0.3", "", "-0.1", "", "0.1", "", "0.3"],
            ["0.10", "", "0.20", "", "0.30"],
            ["0.0", "", "0.2", "", "0.4", "", "0.6", ""],
            ["-0.2", "", "0.0", "", "0.2"]]

chains = [[(beta_ate_c1, beta_ate_c1_half), (beta_ate_c2, beta_ate_c2_half),
           (beta_ate_c3, beta_ate_c3_half)],
          [(logmx_c1, logmx_c1_half), (logmx_c2, logmx_c2_half),
           (logmx_c3, logmx_c3_half)],
          [(mu_beta_c1, mu_beta_c1_half), (mu_beta_c2, mu_beta_c2_half),
           (mu_beta_c3, mu_beta_c3_half)],
          [(sigma_ll_c1, sigma_ll_c1_half), (sigma_ll_c2, sigma_ll_c2_half),
           (sigma_ll_c3, sigma_ll_c3_half)],
          [(sigma_beta_c1, sigma_beta_c1_half), (sigma_beta_c2, sigma_beta_c2_half),
           (sigma_beta_c3, sigma_beta_c3_half)],
          [(u_ace_c1, u_ace_c1_half), (u_ace_c2, u_ace_c2_half),
           (u_ace_c3, u_ace_c3_half)]]
smooths = [beta_ate_smooth, logmx_smooth, mu_beta_smooth,
           sigma_ll_smooth, sigma_beta_smooth, u_ace_smooth]
smooth_x = list(np.linspace(START, END, 5))


def merge_draws(main, half):
    """Order the two sets of draws by iteration number."""
    pts = [(START + k * STEP, v) for k, v in enumerate(main)]
    pts += [(START + STEP / 2 + k * STEP, v) for k, v in enumerate(half)]
    pts.sort()
    return [p[0] for p in pts], [p[1] for p in pts]


chain_colors = ["#000000", "#DF536B", "#61D04F"]
chain_dash = ["solid", "4px,4px", "1px,3px"]
chain_width = [1.25, 1.15, 1.2]

W, H = 903, 650
FONT = "Liberation Sans, Arial, Helvetica, sans-serif"

# panel geometry in pixels
col_x = [(30.0, 435.7, [7400, 77600]), (501.5, 903.0, [7400, 76876])]
row_y = [(34.0, 159.0), (258.0, 381.3), (479.3, 603.3)]
title_y = [16, 240, 462]
xlab_y = [199, 420, 642]

fig = go.Figure()
annotations = []
layout_axes = {}

for p in range(6):
    r, c = divmod(p, 2)
    n = p + 1
    xa = "x" if n == 1 else f"x{n}"
    ya = "y" if n == 1 else f"y{n}"
    x0, x1, xr = col_x[c]
    top, bot = row_y[r]

    for k in range(3):
        xs, ys = merge_draws(*chains[p][k])
        fig.add_trace(go.Scatter(
            x=xs, y=ys, mode="lines",
            line=dict(color=chain_colors[k], width=chain_width[k],
                      dash=chain_dash[k]),
            xaxis=xa, yaxis=ya, showlegend=False, hoverinfo="skip"))
    for k in range(3):
        fig.add_trace(go.Scatter(
            x=smooth_x, y=smooths[p][k], mode="lines",
            line=dict(color=chain_colors[k], width=1.4),
            xaxis=xa, yaxis=ya, showlegend=False, hoverinfo="skip"))

    xkey = "xaxis" if n == 1 else f"xaxis{n}"
    ykey = "yaxis" if n == 1 else f"yaxis{n}"
    layout_axes[xkey] = dict(
        domain=[x0 / W, min(x1 / W, 1.0)], range=xr, anchor=ya,
        automargin=False, showgrid=False, zeroline=False,
        showline=True, mirror=True, linecolor="#222", linewidth=1,
        ticks="outside", ticklen=6, tickwidth=1, tickcolor="#333",
        tickvals=x_ticks, ticktext=[str(v) for v in x_ticks],
        ticklabelstandoff=2,
        tickfont=dict(family=FONT, size=11, color="#111"))
    layout_axes[ykey] = dict(
        domain=[1 - bot / H, 1 - top / H], range=y_ranges[p], anchor=xa,
        automargin=False, showgrid=False, zeroline=False, showline=True,
        mirror=(c == 0), linecolor="#222", linewidth=1,
        ticks="outside", ticklen=6, tickwidth=1, tickcolor="#333",
        tickvals=y_ticks[p], ticktext=y_labels[p], tickangle=-90,
        tickfont=dict(family=FONT, size=11, color="#111"))

    cx = ((x0 + (x1 if c == 0 else 907.5)) / 2) / W
    annotations.append(dict(
        text=f"<b>{titles[p]}</b>", x=cx, y=1 - title_y[r] / H,
        xref="paper", yref="paper", showarrow=False,
        xanchor="center", yanchor="middle",
        font=dict(family=FONT, size=18, color="#000")))
    annotations.append(dict(
        text="Iterations", x=cx, y=1 - xlab_y[r] / H,
        xref="paper", yref="paper", showarrow=False,
        xanchor="center", yanchor="middle",
        font=dict(family=FONT, size=11.5, color="#111")))

fig.update_layout(
    template="none",
    width=W, height=H, autosize=False,
    margin=dict(l=0, r=0, t=0, b=0),
    paper_bgcolor="white", plot_bgcolor="white",
    annotations=annotations, **layout_axes)

fig.write_html("out.html")
